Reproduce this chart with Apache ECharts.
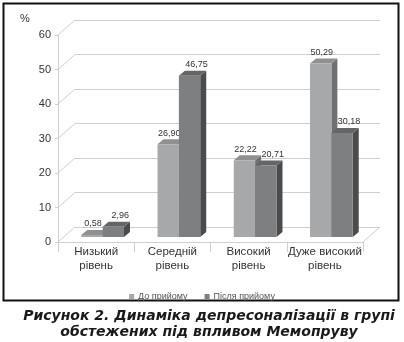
<!DOCTYPE html>
<html><head><meta charset="utf-8">
<script src="https://cdn.jsdelivr.net/npm/echarts@6/dist/echarts.min.js"></script>
<style>html,body{margin:0;padding:0;background:#fff}#c{width:404px;height:342px}</style>
</head><body><div id="c"></div>
<script>
var categories = ['Низький\nрівень', 'Середній\nрівень', 'Високий\nрівень', 'Дуже високий\nрівень'];
var seriesNames = ['До прийому', 'Після прийому'];
var beforeValues = [0.58, 26.90, 22.22, 50.29];
var afterValues = [2.96, 46.75, 20.71, 30.18];
var yTicks = [0, 10, 20, 30, 40, 50, 60];

var WALL_DX = 17, WALL_DY = -15;
var OFF_X = 6.5, OFF_Y = -5;
var BAR_DX = 6, BAR_DY = -5;
var BAR_FRAC = 0.28;
var GRID_COL = '#cfcfcf';
var faces = [
  {front: '#a6a8aa', top: '#8e9092', side: '#6e7072'},
  {front: '#7d7f81', top: '#636567', side: '#4a4b4d'}
];
var labelDx = [1, 7];

function fmt(v) { return v.toFixed(2).replace('.', ','); }

function barRender(idx) {
  return function (params, api) {
    var cat = api.value(0), v = api.value(1);
    var base = api.coord([cat, 0]);
    var top = api.coord([cat, v]);
    var bw = api.size([1, 0])[0];
    var w = bw * BAR_FRAC;
    var x0 = base[0] + OFF_X + (idx === 0 ? -w : 0);
    var x1 = x0 + w;
    var yb = base[1] + OFF_Y, yt = top[1] + OFF_Y;
    var f = faces[idx];
    return {
      type: 'group',
      children: [
        {type: 'polygon', shape: {points: [[x1, yt], [x1 + BAR_DX, yt + BAR_DY], [x1 + BAR_DX, yb + BAR_DY], [x1, yb]]}, style: {fill: f.side}},
        {type: 'polygon', shape: {points: [[x0, yt], [x1, yt], [x1 + BAR_DX, yt + BAR_DY], [x0 + BAR_DX, yt + BAR_DY]]}, style: {fill: f.top}},
        {type: 'rect', shape: {x: x0, y: yt, width: w, height: yb - yt}, style: {fill: f.front}},
        {type: 'text', x: (x0 + x1) / 2 + labelDx[idx], y: yt - 11,
          style: {text: fmt(v), fill: '#333', font: '9px "Liberation Sans", Arial, sans-serif', align: 'center', verticalAlign: 'middle'}}
      ]
    };
  };
}

function wallRender(params, api) {
  var v = api.value(0);
  var p = api.coord([0, v]);
  var x = params.coordSys.x;
  var children = [{type: 'line', shape: {x1: x, y1: p[1], x2: x + WALL_DX, y2: p[1] + WALL_DY}, style: {stroke: GRID_COL, lineWidth: 1}}];
  if (v === 0) {
    var xr = params.coordSys.x + params.coordSys.width;
    children.push({type: 'line', shape: {x1: xr, y1: p[1], x2: xr + WALL_DX, y2: p[1] + WALL_DY}, style: {stroke: GRID_COL, lineWidth: 1}});
  }
  return {type: 'group', children: children};
}

var chart = echarts.init(document.getElementById('c'), null, {renderer: 'canvas'});
chart.setOption({
  backgroundColor: '#fff',
  animation: false,
  grid: [
    {left: 58, right: 41, top: 35, bottom: 100},
    {left: 58 + WALL_DX, right: 41 - WALL_DX, top: 35 + WALL_DY, bottom: 100 - WALL_DY}
  ],
  xAxis: [
    {type: 'category', gridIndex: 0, data: categories,
      axisLine: {show: true, lineStyle: {color: GRID_COL}},
      axisTick: {show: true, length: 10, lineStyle: {color: GRID_COL}},
      axisLabel: {interval: 0, color: '#333', fontSize: 11.5, lineHeight: 14, margin: 3, fontFamily: '"Liberation Sans", Arial, sans-serif'}},
    {type: 'category', gridIndex: 1, data: categories, show: false}
  ],
  yAxis: [
    {type: 'value', gridIndex: 0, min: 0, max: 60, interval: 10,
      axisLine: {show: true, lineStyle: {color: GRID_COL}},
      axisTick: {show: true, length: 3, lineStyle: {color: GRID_COL}},
      splitLine: {show: false},
      axisLabel: {color: '#333', fontSize: 11, margin: 7, fontFamily: '"Liberation Sans", Arial, sans-serif'}},
    {type: 'value', gridIndex: 1, min: 0, max: 60, interval: 10,
      axisLine: {show: false}, axisTick: {show: false}, axisLabel: {show: false},
      splitLine: {show: true, lineStyle: {color: GRID_COL}}}
  ],
  legend: {
    data: seriesNames, top: 287, left: 'center', itemWidth: 5, itemHeight: 5, itemGap: 17,
    icon: 'rect',
    textStyle: {color: '#555', fontSize: 9, fontFamily: '"Liberation Sans Narrow", "Liberation Sans", Arial, sans-serif', padding: [0, 0, 0, -1]}
  },
  graphic: [
    {type: 'rect', shape: {x: 3.5, y: 3.5, width: 395, height: 297}, style: {fill: 'none', stroke: '#111', lineWidth: 2}},
    {type: 'text', left: 20, top: 13, style: {text: '%', fill: '#333', font: '11px "Liberation Sans", Arial, sans-serif'}},
    {type: 'text', x: 209, y: 308, style: {text: 'Рисунок 2. Динаміка депресоналізації в групі\nобстежених під впливом Мемопруву', fill: '#1a1a1a', font: 'italic bold 14px "DejaVu Sans", Arial, sans-serif', align: 'center', verticalAlign: 'top', lineHeight: 16}}
  ],
  series: [
    {type: 'custom', name: 'wall', xAxisIndex: 0, yAxisIndex: 0, data: yTicks.map(function (t) { return [t]; }), renderItem: wallRender, silent: true, z: 1, encode: {y: 0}},
    {type: 'custom', name: seriesNames[0], xAxisIndex: 0, yAxisIndex: 0, itemStyle: {color: faces[0].front},
      data: beforeValues.map(function (v, i) { return [i, v]; }), renderItem: barRender(0), z: 3},
    {type: 'custom', name: seriesNames[1], xAxisIndex: 0, yAxisIndex: 0, itemStyle: {color: faces[1].front},
      data: afterValues.map(function (v, i) { return [i, v]; }), renderItem: barRender(1), z: 4}
  ]
});
</script></body></html>
